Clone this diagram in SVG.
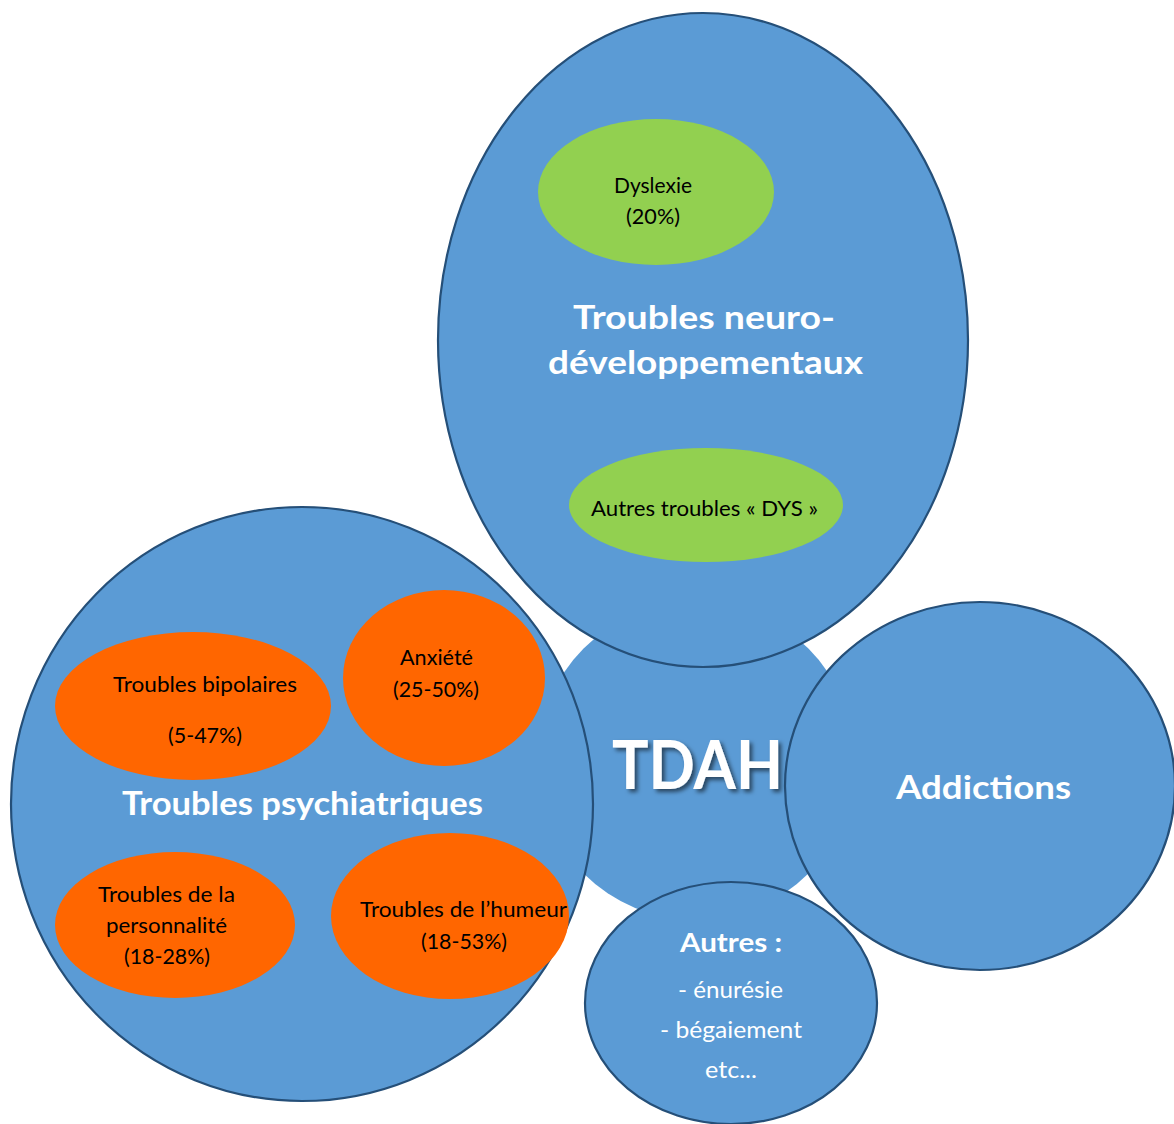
<svg xmlns="http://www.w3.org/2000/svg" width="1174" height="1124" viewBox="0 0 1174 1124">
<style>
.big{fill:#5B9BD5;stroke:#254F78;stroke-width:2.2}
.core{fill:#5B9BD5;stroke:none}
.or{fill:#FF6600}
.gr{fill:#92D050}
text{font-family:Lato,"Open Sans","DejaVu Sans",sans-serif;text-anchor:middle}
.t{font-size:21px;fill:#000}
.wb{font-weight:bold;fill:#fff}
.wr{fill:#fff;font-size:23px}
</style>
<defs>
<filter id="sh" x="-20%" y="-20%" width="140%" height="150%">
<feDropShadow dx="3" dy="3" stdDeviation="2" flood-color="#000" flood-opacity="0.55"/>
</filter>
</defs>
<rect width="1174" height="1124" fill="#fff"/>
<g id="tdah"><circle class="core" cx="696" cy="761" r="159"/></g>
<g id="neuro">
<ellipse class="big" cx="703" cy="340" rx="265" ry="327"/>
<text class="wb" x="704" y="329" font-size="32" textLength="262" lengthAdjust="spacingAndGlyphs">Troubles neuro-</text>
<text class="wb" x="705.5" y="374" font-size="32" textLength="315" lengthAdjust="spacingAndGlyphs">développementaux</text>
</g>
<g id="dyslexie">
<ellipse class="gr" cx="656" cy="192" rx="118" ry="73"/>
<text class="t" x="653" y="193" textLength="78" lengthAdjust="spacingAndGlyphs">Dyslexie</text>
<text class="t" x="653" y="224" textLength="54" lengthAdjust="spacingAndGlyphs">(20%)</text>
</g>
<g id="dys">
<ellipse class="gr" cx="706" cy="505" rx="137" ry="57"/>
<text class="t" x="704.5" y="516" textLength="227" lengthAdjust="spacingAndGlyphs">Autres troubles « DYS »</text>
</g>
<g id="psy">
<ellipse class="big" cx="302" cy="804" rx="291" ry="297"/>
<text class="wb" x="302.5" y="815" font-size="33" textLength="361" lengthAdjust="spacingAndGlyphs">Troubles psychiatriques</text>
</g>
<g id="bipolaires">
<ellipse class="or" cx="193" cy="706" rx="138" ry="74"/>
<text class="t" x="205" y="692" textLength="184" lengthAdjust="spacingAndGlyphs">Troubles bipolaires</text>
<text class="t" x="205" y="743" textLength="74" lengthAdjust="spacingAndGlyphs">(5-47%)</text>
</g>
<g id="anxiete">
<ellipse class="or" cx="444" cy="678" rx="101" ry="88"/>
<text class="t" x="436.5" y="665" textLength="73" lengthAdjust="spacingAndGlyphs">Anxiété</text>
<text class="t" x="436" y="697" textLength="86" lengthAdjust="spacingAndGlyphs">(25-50%)</text>
</g>
<g id="personnalite">
<ellipse class="or" cx="175" cy="925" rx="120" ry="73"/>
<text class="t" x="166.5" y="902" textLength="137" lengthAdjust="spacingAndGlyphs">Troubles de la</text>
<text class="t" x="166.5" y="933" textLength="121" lengthAdjust="spacingAndGlyphs">personnalité</text>
<text class="t" x="167" y="964" textLength="86" lengthAdjust="spacingAndGlyphs">(18-28%)</text>
</g>
<g id="humeur">
<ellipse class="or" cx="450" cy="916" rx="119" ry="83"/>
<text class="t" x="463.5" y="917" textLength="207" lengthAdjust="spacingAndGlyphs">Troubles de l’humeur</text>
<text class="t" x="464" y="949" textLength="86" lengthAdjust="spacingAndGlyphs">(18-53%)</text>
</g>
<g id="addictions">
<ellipse class="big" cx="980" cy="786" rx="195" ry="184"/>
<text class="wb" x="983.5" y="799" font-size="33" textLength="175" lengthAdjust="spacingAndGlyphs">Addictions</text>
</g>
<g id="autres">
<ellipse class="big" cx="731" cy="1003" rx="146" ry="121"/>
<text class="wb" x="731" y="952" font-size="27" textLength="102" lengthAdjust="spacingAndGlyphs">Autres :</text>
<text class="wr" x="730.5" y="998" textLength="105" lengthAdjust="spacingAndGlyphs">- énurésie</text>
<text class="wr" x="731" y="1038" textLength="142" lengthAdjust="spacingAndGlyphs">- bégaiement</text>
<text class="wr" x="731" y="1078" textLength="52" lengthAdjust="spacingAndGlyphs">etc...</text>
</g>
<g id="tdah-label">
<text class="wb" x="697.5" y="789" font-size="67" filter="url(#sh)" textLength="171" lengthAdjust="spacingAndGlyphs">TDAH</text>
</g>
<g id="connectors"/>
</svg>
